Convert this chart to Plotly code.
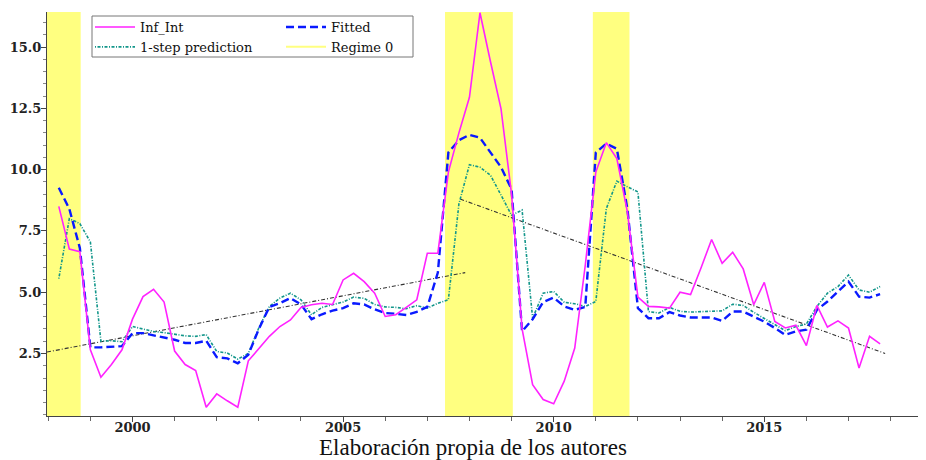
import numpy as np
import plotly.graph_objects as go

# ---------------- data ----------------
start_year = 1998.25
n_obs = 79
quarters = [start_year + 0.25 * i for i in range(n_obs)]

inf_int = [8.5, 6.76, 6.65,
           2.65, 1.53, 2.05, 2.65,
           3.9, 4.82, 5.12, 4.6,
           2.6, 2.05, 1.8, 0.31,
           0.85, 0.57, 0.31, 2.2,
           2.72, 3.2, 3.6, 3.87,
           4.38, 4.49, 4.55, 4.5,
           5.5, 5.77, 5.43, 4.96,
           4.01, 4.08, 4.38, 4.69,
           6.59, 6.59, 9.9, 11.5,
           12.95, 16.4, 14.4, 12.48,
           9.0, 3.5, 1.23, 0.62,
           0.45, 1.37, 2.72, 6.1,
           9.9, 11.1, 10.45, 8.28,
           4.8, 4.42, 4.4, 4.35,
           5.0, 4.9, 6.0, 7.15,
           6.18, 6.63, 5.95, 4.49,
           5.4, 3.81, 3.54, 3.65,
           2.82, 4.46, 3.58, 3.83,
           3.54, 1.91, 3.2, 2.89]

fitted = [9.26, 8.4, 6.8,
          2.75, 2.75, 2.78, 2.8,
          3.33, 3.33, 3.24, 3.16,
          3.06, 2.93, 2.93, 3.02,
          2.35, 2.3, 2.1, 2.45,
          3.5, 4.4, 4.55, 4.76,
          4.5, 3.9, 4.1, 4.25,
          4.35, 4.55, 4.5, 4.3,
          4.15, 4.12, 4.07, 4.2,
          4.4, 5.8, 10.7, 11.2,
          11.42, 11.3, 10.7, 10.1,
          9.2, 3.4, 3.9, 4.6,
          4.78, 4.42, 4.28, 4.4,
          10.7, 11.06, 10.85, 8.4,
          4.35, 3.94, 3.94, 4.19,
          4.05, 3.97, 3.97, 3.97,
          3.83, 4.21, 4.21, 4.0,
          3.8, 3.54, 3.26, 3.4,
          3.47, 4.28, 4.62, 5.03,
          5.43, 4.82, 4.78, 4.92]

one_step = [5.55, 8.0, 7.8,
            7.05, 3.0, 3.02, 2.98,
            3.6, 3.5, 3.4, 3.35,
            3.27, 3.22, 3.2, 3.27,
            2.58, 2.52, 2.27, 2.5,
            3.55, 4.42, 4.76, 4.96,
            4.69, 4.08, 4.38, 4.49,
            4.6, 4.8, 4.75, 4.5,
            4.4, 4.38, 4.33, 4.45,
            4.35, 4.55, 4.69, 8.6,
            10.2, 10.1, 9.77, 8.96,
            8.14, 8.35, 3.94, 4.96,
            5.03, 4.59, 4.53, 4.42,
            4.62, 8.41, 9.53, 9.3,
            9.09, 4.21, 4.15, 4.38,
            4.22, 4.19, 4.2, 4.21,
            4.24, 4.51, 4.46, 4.18,
            3.94, 3.67, 3.43, 3.6,
            3.7, 4.42, 4.96, 5.23,
            5.7, 5.09, 5.0, 5.23]

trend1_x = [1997.97, 2007.9]
trend1_y = [2.56, 5.8]
trend2_x = [2007.78, 2017.87]
trend2_y = [8.8, 2.5]

regime_start = [1997.9, 2007.42, 2010.93]
regime_end = [1998.77, 2009.03, 2011.8]

x_range = [1997.97, 2018.84]
y_range = [-0.05, 16.43]
x_tickvals = [2000, 2005, 2010, 2015]
y_tickvals = [2.5, 5.0, 7.5, 10.0, 12.5, 15.0]

caption = "Elaboración propia de los autores"

# ---------------- figure ----------------
YELLOW = "#ffff80"
fig = go.Figure()

trend_dash = "4px,2px,1px,2px"
fig.add_trace(go.Scatter(x=trend1_x, y=trend1_y, mode="lines", showlegend=False,
                         line=dict(color="#333333", width=1.1, dash=trend_dash), hoverinfo="skip"))
fig.add_trace(go.Scatter(x=trend2_x, y=trend2_y, mode="lines", showlegend=False,
                         line=dict(color="#333333", width=1.1, dash=trend_dash), hoverinfo="skip"))

fig.add_trace(go.Scatter(x=quarters, y=one_step, mode="lines", name="1-step prediction",
                         line=dict(color="#12968a", width=1.6, dash="1px,1.5px,3px,1.5px"),
                         legend="legend", legendrank=2))
fig.add_trace(go.Scatter(x=quarters, y=fitted, mode="lines", name="Fitted",
                         line=dict(color="#0a1aff", width=2.4, dash="8px,4px"),
                         legend="legend2", legendrank=1))
fig.add_trace(go.Scatter(x=quarters, y=inf_int, mode="lines", name="Inf_Int",
                         line=dict(color="#ff22ff", width=1.6),
                         legend="legend", legendrank=1))
fig.add_trace(go.Scatter(x=[None], y=[None], mode="lines", name="Regime 0",
                         line=dict(color=YELLOW, width=2),
                         legend="legend2", legendrank=2))

# the page body has an 8px margin, so the figure is offset by 8px on screen
OFF = 8
W, H = 926 - OFF, 460 - OFF
L_s, T_s, B_s = 47, 12, 416          # plot edges in screen pixels
pw, ph = 926 - L_s, B_s - T_s

def px_x(p):
    return (p - L_s) / pw

def px_y(p):
    return 1 - (p - T_s) / ph

legend_font = dict(family="DejaVu Serif", size=13, color="#111111")
fig.update_layout(
    width=W, height=H,
    margin=dict(l=L_s - OFF, r=0, t=T_s - OFF, b=H - (B_s - OFF), autoexpand=False),
    plot_bgcolor="white", paper_bgcolor="white",
    legend=dict(x=px_x(90), y=1.0, xanchor="left", yanchor="top",
                bgcolor="rgba(0,0,0,0)", borderwidth=0, font=legend_font,
                traceorder="normal", tracegroupgap=0, itemwidth=40),
    legend2=dict(x=px_x(281), y=1.0, xanchor="left", yanchor="top",
                 bgcolor="rgba(0,0,0,0)", borderwidth=0, font=legend_font,
                 traceorder="normal", tracegroupgap=0, itemwidth=40),
    annotations=[dict(text=caption, xref="paper", yref="paper",
                      x=px_x(473), y=px_y(447), xanchor="center", yanchor="middle",
                      showarrow=False, borderpad=0,
                      font=dict(family="Liberation Serif", size=23, color="#111111"))],
)

for x0, x1 in zip(regime_start, regime_end):
    fig.add_vrect(x0=x0, x1=x1, fillcolor=YELLOW, opacity=1, line_width=0, layer="below")

fig.add_shape(type="rect", xref="paper", yref="paper",
              x0=px_x(92), x1=px_x(413), y0=px_y(57), y1=px_y(16),
              line=dict(color="#777777", width=1), fillcolor="white", layer="above")

tickfont = dict(family="DejaVu Serif", size=13, color="#222222", weight="bold")
fig.update_xaxes(range=x_range, showgrid=False, zeroline=False,
                 showline=True, linecolor="#444444", linewidth=1.2,
                 tickmode="array", tickvals=x_tickvals, ticks="outside",
                 ticklen=5, tickcolor="#444444", tickfont=tickfont, ticklabelstandoff=-6,
                 minor=dict(dtick=1, tick0=2000, ticks="outside", ticklen=4, tickcolor="#666666"))
fig.update_yaxes(range=y_range, showgrid=False, zeroline=False,
                 showline=True, linecolor="#444444", linewidth=1.2,
                 tickmode="array", tickvals=y_tickvals, tickformat=".1f", ticks="outside",
                 ticklen=5, tickcolor="#444444", tickfont=tickfont, ticklabelstandoff=-3,
                 minor=dict(dtick=0.5, tick0=0, ticks="outside", ticklen=3, tickcolor="#888888"))

fig.write_html("out.html")
